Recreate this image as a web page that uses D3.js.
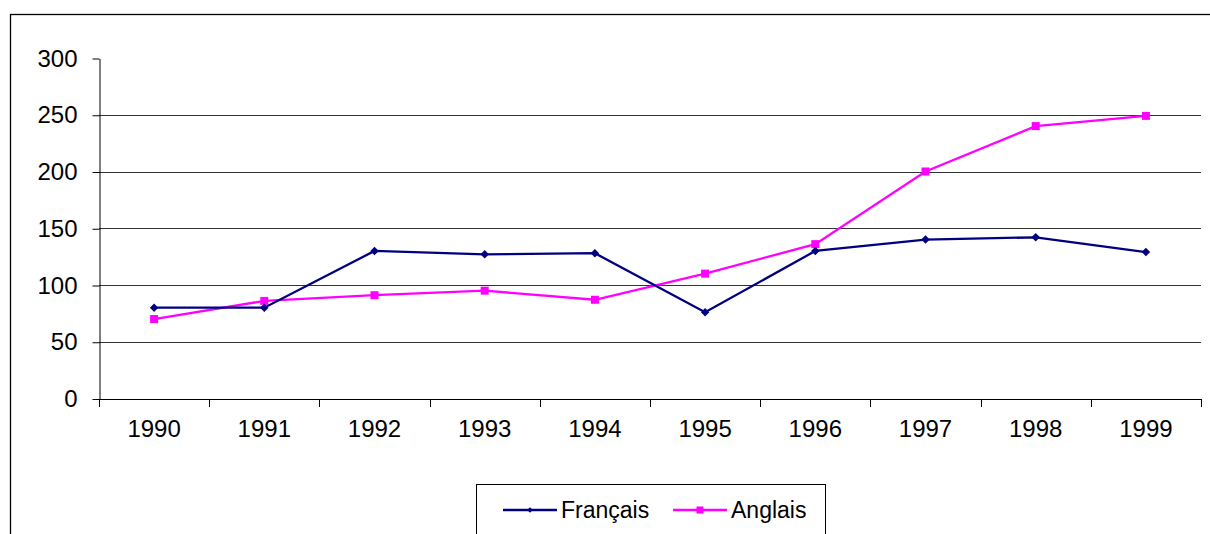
<!DOCTYPE html>
<html lang="en">
  <head>
    <meta charset="utf-8" />
    <script src="https://cdn.jsdelivr.net/npm/d3@7/dist/d3.min.js"></script>
    <title>Français / Anglais</title>
    <style>
      body { margin: 0; background: #fff; }
      text { font-family: "Liberation Sans", Arial, sans-serif; fill: #000; }
      .grid line { stroke: #333; stroke-width: 1.2; }
    </style>
  </head>
  <body>
    <div id="container"></div>
    <script>
      // data
      const years = ["1990", "1991", "1992", "1993", "1994", "1995", "1996", "1997", "1998", "1999"];
      const francais = [80, 80, 130, 127, 128, 76, 130, 140, 142, 129];
      const anglais = [70, 86, 91, 95, 87, 110, 136, 200, 240, 249];
      const yTicks = [0, 50, 100, 150, 200, 250, 300];

      const width = 1210;
      const height = 534;
      const plot = { left: 99, right: 1201, top: 58, bottom: 398.5 };

      const svg = d3.select("#container").append("svg").attr("width", width).attr("height", height);

      // outer frame (runs off the right and bottom)
      svg.append("rect").attr("x", 10.5).attr("y", 14.5).attr("width", 1220).attr("height", 540)
        .attr("fill", "none").attr("stroke", "#000").attr("stroke-width", 1.3);

      const x = d3.scaleBand().domain(years).range([plot.left, plot.right]).padding(0);
      const y = d3.scaleLinear().domain([0, 300]).range([plot.bottom, plot.top]);

      // gridlines
      svg.append("g").attr("class", "grid")
        .selectAll("line").data(yTicks.filter((d) => d > 0 && d < 300)).join("line")
        .attr("x1", plot.left).attr("x2", plot.right)
        .attr("y1", (d) => Math.round(y(d)) + 0.5).attr("y2", (d) => Math.round(y(d)) + 0.5);

      // y axis
      const yAxis = svg.append("g").attr("transform", `translate(${plot.left + 0.5},0.5)`)
        .call(d3.axisLeft(y).tickValues(yTicks).tickSize(7).tickSizeOuter(0).tickPadding(15));
      yAxis.selectAll("path, line").attr("stroke", "#000");
      yAxis.selectAll("text").style("font-size", "24px").attr("font-family", null);

      // x axis: ticks at category boundaries
      const xg = svg.append("g");
      xg.append("line").attr("x1", plot.left).attr("x2", plot.right)
        .attr("y1", Math.round(plot.bottom) + 0.5).attr("y2", Math.round(plot.bottom) + 0.5).attr("stroke", "#000");
      const bounds = years.map((d) => x(d)).concat([x(years[years.length - 1]) + x.bandwidth()]);
      xg.selectAll(".xt").data(bounds).join("line").attr("class", "xt")
        .attr("x1", (d) => Math.round(d) + 0.5).attr("x2", (d) => Math.round(d) + 0.5)
        .attr("y1", Math.round(plot.bottom)).attr("y2", Math.round(plot.bottom) + 8).attr("stroke", "#000");
      xg.selectAll(".xl").data(years).join("text").attr("class", "xl")
        .attr("x", (d) => x(d) + x.bandwidth() / 2).attr("y", 437)
        .attr("text-anchor", "middle").style("font-size", "24px").text((d) => d);

      const cx = (i) => x(years[i]) + x.bandwidth() / 2;
      const line = d3.line().x((d, i) => cx(i)).y((d) => y(d));

      // Anglais
      svg.append("path").datum(anglais).attr("d", line).attr("fill", "none")
        .attr("stroke", "#ff00ff").attr("stroke-width", 2.3);
      svg.selectAll(".sq").data(anglais).join("rect").attr("class", "sq")
        .attr("x", (d, i) => cx(i) - 4).attr("y", (d) => y(d) - 4)
        .attr("width", 8).attr("height", 8).attr("fill", "#ff00ff");

      // Français
      svg.append("path").datum(francais).attr("d", line).attr("fill", "none")
        .attr("stroke", "#000080").attr("stroke-width", 2.3);
      // rhombus marker, about as wide as it is tall
      const diamond = d3.symbol(d3.symbolSquare, 36);
      svg.selectAll(".dm").data(francais).join("path").attr("class", "dm")
        .attr("transform", (d, i) => `translate(${cx(i)},${y(d)}) rotate(45)`)
        .attr("d", diamond).attr("fill", "#000080");

      // legend
      const lg = svg.append("g");
      lg.append("rect").attr("x", 476.5).attr("y", 484.5).attr("width", 349).attr("height", 70)
        .attr("fill", "#fff").attr("stroke", "#000").attr("stroke-width", 1);
      const items = [
        { name: "Français", color: "#000080", x: 503, mark: "diamond" },
        { name: "Anglais", color: "#ff00ff", x: 673, mark: "square" },
      ];
      items.forEach((it) => {
        lg.append("line").attr("x1", it.x).attr("x2", it.x + 54).attr("y1", 510).attr("y2", 510)
          .attr("stroke", it.color).attr("stroke-width", 2.3);
        if (it.mark === "square") {
          lg.append("rect").attr("x", it.x + 27 - 3.5).attr("y", 506.5).attr("width", 7).attr("height", 7).attr("fill", it.color);
        } else {
          lg.append("path").attr("transform", `translate(${it.x + 27},510) rotate(45)`).attr("d", d3.symbol(d3.symbolSquare, 16)).attr("fill", it.color);
        }
        lg.append("text").attr("x", it.x + 58).attr("y", 518).style("font-size", "23px").text(it.name);
      });
    </script>
  </body>
</html>
